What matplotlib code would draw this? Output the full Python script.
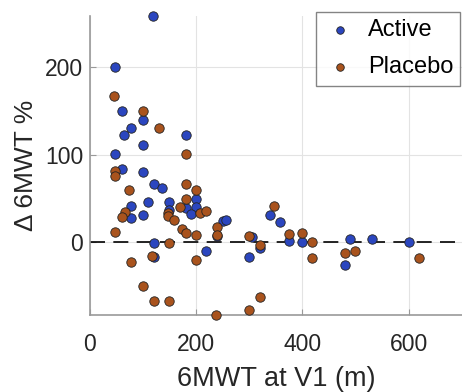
import matplotlib
matplotlib.use("Agg")
import matplotlib.pyplot as plt
import numpy as np

plt.rcParams['font.family'] = ['Liberation Sans', 'DejaVu Sans']

# Active group: baseline 6MWT (m) vs change in 6MWT (%)
active_x = [119, 48, 60, 99, 77, 64, 180, 99, 48, 60, 99, 120, 136, 109, 149,
            200, 77, 180, 200, 149, 77, 99, 190, 120, 219, 120, 239, 251, 257,
            305, 320, 300, 339, 358, 374, 399, 490, 480, 531, 600]
active_y = [258.6, 200, 150.5, 140, 130.6, 123, 122, 111, 100.6, 83.8, 80, 66.7,
            61.3, 45.7, 46, 49, 41, 38.5, 40, 37, 28, 30.5, 31.8, -0.5, -10,
            -17.5, 6.5, 24.4, 25, 5.3, -6.5, -17, 30.5, 23.5, 1.2, 0, 3.8, -26,
            3.8, 0]

# Placebo group
placebo_x = [45, 99, 130, 180, 48, 48, 180, 74, 200, 180, 170, 208, 219, 147,
             66, 61, 147, 158, 174, 180, 200, 48, 149, 116, 200, 77, 99, 120,
             149, 237, 300, 320, 240, 240, 299, 320, 346, 374, 399, 418, 418,
             480, 500, 620]
placebo_y = [167, 150.5, 130.6, 100.6, 80.8, 75.8, 66.7, 59.4, 59.4, 49.5, 40,
             33.5, 36, 33.5, 34.6, 29, 29.7, 25, 15, 10.6, 8.5, 11.5, -0.5,
             -15.5, -20.8, -23, -50, -67, -67, -83.4, -77.5, -63, 16.8, 8.5, 7,
             -3.6, 41.2, 9.5, 10, 0, -18, -13, -10, -18]

blue = '#2B46BF'
orange = '#A9531D'

fig = plt.figure(figsize=(4.62, 3.92), dpi=100)
ax = fig.add_axes([0.1948, 0.1964, 0.8044, 0.7628])

ax.axhline(0, color='black', lw=1.2, ls=(0, (9, 5)), zorder=2)
ax.scatter(active_x, active_y, s=46, c=blue, edgecolors='#222222',
           linewidths=0.6, zorder=3, clip_on=False, label='Active')
ax.scatter(placebo_x, placebo_y, s=46, c=orange, edgecolors='#222222',
           linewidths=0.6, zorder=3, clip_on=False, label='Placebo')

ally = active_y + placebo_y
ax.set_xlim(0, 700)
ax.set_ylim(min(ally), max(ally))
ax.set_xticks([0, 200, 400, 600])
ax.set_yticks([0, 100, 200])
ax.grid(True, color='#e3e3e3', lw=0.8)
ax.set_axisbelow(True)

for s in ['top', 'right']:
    ax.spines[s].set_visible(False)
for s in ['left', 'bottom']:
    ax.spines[s].set_color('#999999')
    ax.spines[s].set_linewidth(1.2)
ax.tick_params(direction='in', length=4, color='#999999', labelsize=16.5,
               labelcolor='#262626')
ax.tick_params(axis='x', pad=13)
ax.tick_params(axis='y', pad=5)

ax.set_xlabel('6MWT at V1 (m)', fontsize=19.5, color='#262626', labelpad=7)
ax.set_ylabel('Δ 6MWT %', fontsize=19, color='#262626', labelpad=5)

leg = fig.legend(loc='upper left', bbox_to_anchor=(316 / 462, 1 - 12 / 392),
                 borderaxespad=0, fontsize=17, frameon=True, fancybox=False,
                 markerscale=0.8, handletextpad=0.5, borderpad=0.3,
                 labelspacing=0.65, handlelength=1.4)
leg.get_frame().set_edgecolor('#666666')
leg.get_frame().set_linewidth(1.0)

fig.savefig('out.png', dpi=100)
